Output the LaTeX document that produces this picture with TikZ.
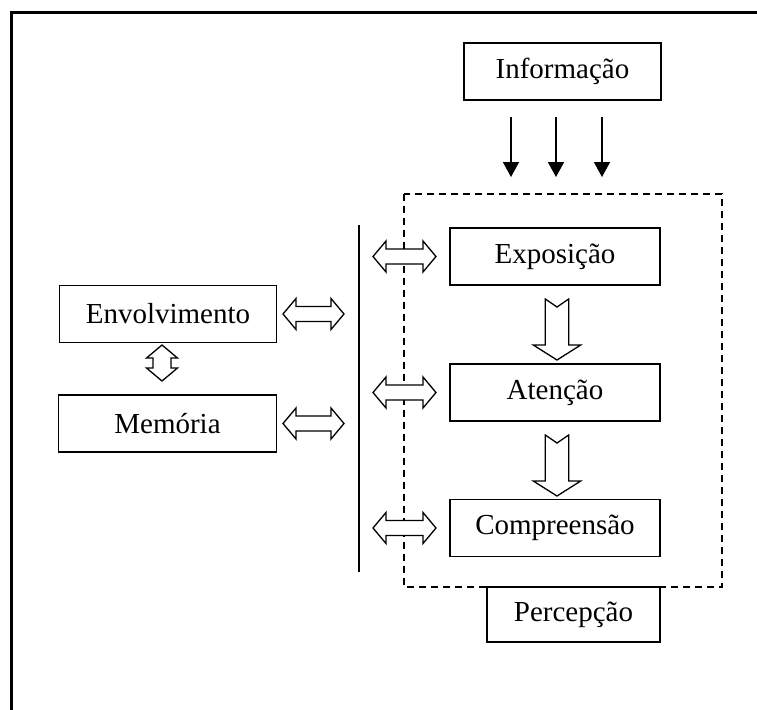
\documentclass[tikz,border=0pt]{standalone}
\usepackage{fontspec}
\setmainfont{Liberation Serif}
\usetikzlibrary{arrows.meta}
\newcommand{\hdbl}[3]{% x1, x2, y  (horizontal block double arrow)
  \draw[blk] (#1,#3) -- (#1+13,#3-15.5) -- (#1+13,#3-7.5) -- (#2-13,#3-7.5) -- (#2-13,#3-15.5)
    -- (#2,#3) -- (#2-13,#3+15.5) -- (#2-13,#3+7.5) -- (#1+13,#3+7.5) -- (#1+13,#3+15.5) -- cycle;}
\newcommand{\vdbl}[3]{% x, y1, y2 (vertical block double arrow)
  \draw[blk] (#1,#2) -- (#1+15.5,#2+13) -- (#1+9,#2+13) -- (#1+9,#3-13) -- (#1+15.5,#3-13)
    -- (#1,#3) -- (#1-15.5,#3-13) -- (#1-9,#3-13) -- (#1-9,#2+13) -- (#1-15.5,#2+13) -- cycle;}
\newcommand{\downblk}[3]{% x, ytop, ytip (notched block arrow down)
  \draw[blk] (#1-11.7,#2) -- (#1,#2+8) -- (#1+11.7,#2) -- (#1+11.7,#3-15) -- (#1+23.7,#3-15)
    -- (#1,#3) -- (#1-23.7,#3-15) -- (#1-11.7,#3-15) -- cycle;}
\begin{document}
\begin{tikzpicture}[x=0.5pt,y=-0.5pt,
  box/.style={draw,line width=0.9pt,inner sep=0pt,minimum height=28.5pt,
    font=\fontsize{14.5}{17}\selectfont},
  blk/.style={draw,line width=0.65pt,fill=white,line join=miter},
  thinarrow/.style={line width=0.75pt,-{Triangle[length=7.5pt,width=8pt]}},
  dashbox/.style={draw,line width=0.75pt,dash pattern=on 3.5pt off 2.5pt}]
\useasboundingbox (0,0) rectangle (757,709);
% outer frame
\draw[line width=1.2pt] (11.5,720) -- (11.5,12.5) -- (770,12.5);
% dashed perception region
\draw[dashbox] (404,194) rectangle (722,587);
% boxes
\node[box,minimum width=98.5pt] (info) at (562.5,71.5) {Informação};
\node[box,minimum width=105pt] (expo) at (555,256.5) {Exposição};
\node[box,minimum width=105pt] (aten) at (555,392.5) {Atenção};
\node[box,minimum width=105pt] (comp) at (555,528) {Compreensão};
\node[box,minimum width=86.5pt,minimum height=27.5pt,fill=white] (perc) at (573.5,614.5) {Percepção};
\node[box,minimum width=108.5pt] (envo) at (168,314) {Envolvimento};
\node[box,minimum width=109pt] (memo) at (167.5,423.5) {Memória};
% thin arrows from information
\coordinate (a1s) at (511,117); \coordinate (a1e) at (511,177);
\coordinate (a2s) at (556,117); \coordinate (a2e) at (556,177);
\coordinate (a3s) at (602,117); \coordinate (a3e) at (602,177);
\draw[thinarrow] (a1s) -- (a1e);
\draw[thinarrow] (a2s) -- (a2e);
\draw[thinarrow] (a3s) -- (a3e);
% vertical bar
\coordinate (bart) at (359,225); \coordinate (barb) at (359,572);
\draw[line width=0.75pt] (bart) -- (barb);
% block arrows
\hdbl{373}{436}{256.5}
\hdbl{373}{436}{392.5}
\hdbl{373}{436}{528}
\hdbl{283}{344}{314}
\hdbl{283}{344}{423.5}
\vdbl{162}{345}{381}
\downblk{557}{299}{360}
\downblk{557}{435}{496}
\end{tikzpicture}
\end{document}
